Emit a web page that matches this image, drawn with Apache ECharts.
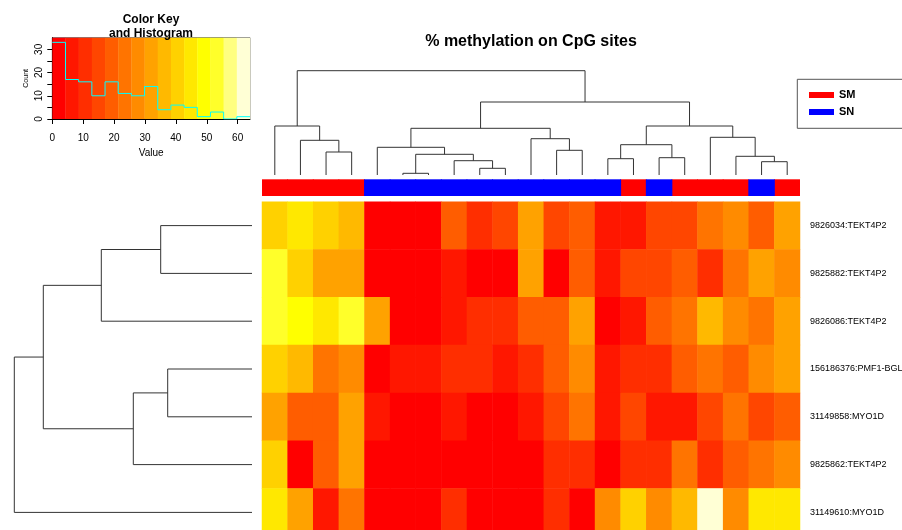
<!DOCTYPE html>
<html>
<head>
<meta charset="utf-8">
<script src="https://cdn.jsdelivr.net/npm/echarts@6.0.0/dist/echarts.min.js"></script>
<style>
html,body{margin:0;padding:0;background:#ffffff;}
#chart{width:902px;height:530px;}
</style>
</head>
<body>
<div id="chart"></div>
<script>
// ---------------- data ----------------
const columns = ['C1','C2','C3','C4','C5','C6','C7','C8','C9','C10','C11','C12','C13','C14','C15','C16','C17','C18','C19','C20','C21'];
const sampleGroup = ['SM','SM','SM','SM','SN','SN','SN','SN','SN','SN','SN','SN','SN','SN','SM','SN','SM','SM','SM','SN','SM'];
const groupNames = ['SM','SN'];
const rowLabels = ['9826034:TEKT4P2','9825882:TEKT4P2','9826086:TEKT4P2','156186376:PMF1-BGLAP','31149858:MYO1D','9825862:TEKT4P2','31149610:MYO1D'];

const row1 = [40.1, 44.3, 40.8, 36.7, 1.2, 2.5, 0.8, 19.6, 10.2, 15.3, 31.4, 14.6, 19.9, 6.8, 5.9, 14.2, 15.8, 23.9, 27.4, 18.8, 32.6];
const row2 = [53.8, 41.2, 31.7, 32.9, 0.5, 1.9, 2.8, 6.1, 3.1, 1.4, 33.2, 2.2, 18.4, 7.3, 14.8, 15.6, 20.1, 11.4, 22.8, 31.1, 28.3];
const row3 = [52.6, 49.5, 45.1, 54.2, 30.9, 0.3, 1.6, 7.7, 11.9, 10.8, 19.3, 18.1, 31.9, 3.4, 6.6, 20.4, 24.6, 37.2, 26.9, 23.1, 33.5];
const row4 = [39.4, 35.8, 24.2, 28.8, 2.9, 5.2, 7.9, 9.4, 12.1, 6.3, 10.5, 17.9, 27.1, 4.8, 11.1, 9.9, 19.1, 22.4, 20.8, 26.3, 30.4];
const row5 = [32.3, 18.6, 20.7, 30.2, 7.1, 1.1, 0.6, 5.5, 2.4, 1.8, 6.9, 16.2, 22.1, 8.2, 13.4, 5.7, 7.5, 13.9, 25.1, 16.6, 19.4];
const row6 = [41.9, 3.7, 17.6, 31.3, 0.9, 1.3, 0.2, 2.6, 0.7, 1.7, 3.9, 9.1, 12.4, 0.4, 10.1, 11.6, 23.4, 9.7, 18.9, 24.8, 27.8];
const row7 = [46.2, 33.8, 4.5, 22.6, 1.0, 0.1, 2.1, 12.6, 1.5, 0.9, 2.7, 10.9, 3.3, 28.9, 39.7, 26.2, 35.4, 62.8, 29.1, 43.6, 45.9];
const methylation = [row1, row2, row3, row4, row5, row6, row7];

// column dendrogram (hclust-style merge: negative = leaf position, positive = earlier merge)
const colMerge = [[-6,-7],[-9,-10],[-20,-21],[-8,2],[-14,-15],[-16,-17],[-19,3],[1,4],[-3,-4],[-12,-13],[-5,8],[5,6],[-2,9],[-11,10],[-18,7],[11,14],[-1,13],[12,15],[16,18],[17,19]];
const colHeight = [1.7,6.7,13.3,14.3,16.3,17.3,18.7,20.7,23,24.7,27.7,30.3,34.7,36.3,37.7,46.7,49,49,73,104.3];
// row dendrogram
const rowMerge = [[-4,-5],[-1,-2],[-6,1],[-3,2],[4,3],[-7,5]];
const rowHeight = [84.3,91.3,118.7,150.7,208.7,237.7];

// colour key
const keyMin = 0, keyMax = 64, keyBins = 15;
const keyTicks = [0,10,20,30,40,50,60];
const countTicks = [0,5,10,15,20,25,30];
const countLabels = [0,10,20,30];
const countMax = 35;

// ---------------- styles ----------------
const heatColors = ['#FF0000','#FF1700','#FF2E00','#FF4600','#FF5D00','#FF7400','#FF8B00','#FFA200','#FFB900','#FFD100','#FFE800','#FFFF00','#FFFF2A','#FFFF80','#FFFFD5'];
const groupColors = {SM:'#FF0000', SN:'#0000FF'};
const FONT = '"Liberation Sans", Arial, Helvetica, sans-serif';
const LINE = '#333333';

// ---------------- derived ----------------
const binW = (keyMax - keyMin) / keyBins;
const keyBreaks = [];
for (let i = 0; i <= keyBins; i++) keyBreaks.push(keyMin + binW * i);
const counts = new Array(keyBins).fill(0);
methylation.forEach(r => r.forEach(v => {
  counts[Math.min(keyBins - 1, Math.floor((v - keyMin) / binW))]++;
}));
const histData = counts.map((c, i) => [keyBreaks[i], c]);
histData.push([keyBreaks[keyBins], counts[keyBins - 1]]);
const keyBands = counts.map((c, i) => [keyBreaks[i], keyBreaks[i + 1]]);

const heatData = [];
methylation.forEach((row, r) => row.forEach((v, c) => heatData.push([c, r, v])));

function dendroSegments(merge, height) {
  const pos = [], segs = [];
  const get = ref => ref < 0 ? {p: -ref, h: 0} : {p: pos[ref - 1], h: height[ref - 1]};
  merge.forEach((m, i) => {
    const a = get(m[0]), b = get(m[1]);
    pos[i] = (a.p + b.p) / 2;
    segs.push([[a.p, a.h], [a.p, height[i]], [b.p, height[i]], [b.p, b.h]]);
  });
  return segs;
}
const colSegs = dendroSegments(colMerge, colHeight);
const rowSegs = dendroSegments(rowMerge, rowHeight).map(s => s.map(c => [c[1], c[0]]));

function dendroSeries(segs, xi, yi) {
  return {
    type: 'custom', xAxisIndex: xi, yAxisIndex: yi, silent: true, clip: false,
    data: segs.map(s => s[1]),
    renderItem: (params, api) => ({
      type: 'polyline',
      shape: {points: segs[params.dataIndex].map(c => api.coord(c))},
      style: {stroke: LINE, lineWidth: 1, fill: 'none'}
    })
  };
}

const pieces = keyBreaks.slice(0, keyBins).map((b, i) =>
  i === keyBins - 1 ? {gte: b, lte: keyBreaks[i + 1], color: heatColors[i]}
                    : {gte: b, lt: keyBreaks[i + 1], color: heatColors[i]});

// ---------------- layout ----------------
const gridBase = {containLabel: false, outerBoundsMode: 'none'};
const HM  = Object.assign({left: 262, top: 201.7, width: 538, height: 334.6}, gridBase);
const CB  = Object.assign({left: 262, top: 179.3, width: 538, height: 16.7}, gridBase);
const TD  = Object.assign({left: 262, top: 70.7, width: 538, height: 104.3}, gridBase);
const RD  = Object.assign({left: 14.3, top: 201.7, width: 237.7, height: 334.6}, gridBase);
const KEY = Object.assign({left: 52.3, top: 37.7, width: 197.7, height: 81.3, show: true, borderColor: '#666', borderWidth: 1, backgroundColor: 'transparent'}, gridBase);

const chart = echarts.init(document.getElementById('chart'), null, {renderer: 'canvas'});
const txt = {fontFamily: FONT, color: '#000'};

const option = {
  animation: false,
  backgroundColor: '#ffffff',
  title: [
    {text: '% methylation on CpG sites', left: 531, top: 33, textAlign: 'center', padding: 0,
     textStyle: Object.assign({fontSize: 16, fontWeight: 'bold', lineHeight: 18}, txt)},
    {text: 'Color Key\nand Histogram', left: 151, top: 12.3, textAlign: 'center', padding: 0,
     textStyle: Object.assign({fontSize: 12, fontWeight: 'bold', lineHeight: 14}, txt)}
  ],
  legend: {
    data: groupNames, left: 797.3, top: 79.3, orient: 'vertical', icon: 'rect',
    itemWidth: 25, itemHeight: 6, itemGap: 5, padding: [9.7, 70, 10.3, 11.7],
    borderColor: '#555', borderWidth: 1, selectedMode: false,
    textStyle: Object.assign({fontSize: 11, fontWeight: 'bold', lineHeight: 12}, txt)
  },
  grid: [HM, CB, TD, RD, KEY],
  xAxis: [
    {gridIndex: 0, type: 'category', data: columns, show: false},
    {gridIndex: 1, type: 'category', data: columns, show: false},
    {gridIndex: 2, type: 'value', min: 0.5, max: columns.length + 0.5, show: false},
    {gridIndex: 3, type: 'value', min: 0, max: rowHeight[rowHeight.length - 1], inverse: true, show: false},
    {gridIndex: 4, type: 'value', min: keyMin, max: keyMax, position: 'bottom',
     axisLine: {show: true, onZero: false, lineStyle: {color: '#000', width: 1}},
     axisTick: {show: true, length: 5, customValues: keyTicks, lineStyle: {color: '#000'}},
     axisLabel: Object.assign({customValues: keyTicks, fontSize: 10, margin: 14,
       formatter: v => (keyTicks.indexOf(v) >= 0 ? String(v) : '')}, txt),
     splitLine: {show: false},
     name: 'Value', nameLocation: 'middle', nameGap: 29,
     nameTextStyle: Object.assign({fontSize: 10}, txt)}
  ],
  yAxis: [
    {gridIndex: 0, type: 'category', data: rowLabels, inverse: true, position: 'right',
     axisLine: {show: false}, axisTick: {show: false}, splitLine: {show: false},
     axisLabel: Object.assign({fontSize: 9, margin: 10}, txt)},
    {gridIndex: 1, type: 'value', min: 0, max: 1, show: false},
    {gridIndex: 2, type: 'value', min: 0, max: colHeight[colHeight.length - 1], show: false},
    {gridIndex: 3, type: 'value', min: 0.5, max: rowLabels.length + 0.5, inverse: true, show: false},
    {gridIndex: 4, type: 'value', min: 0, max: countMax, position: 'left',
     axisLine: {show: true, onZero: false, lineStyle: {color: '#000', width: 1}},
     axisTick: {show: true, length: 5, customValues: countTicks, lineStyle: {color: '#000'}},
     axisLabel: Object.assign({customValues: countLabels, fontSize: 10, margin: 8, rotate: 90,
       formatter: v => (countLabels.indexOf(v) >= 0 ? String(v) : '')}, txt),
     splitLine: {show: false},
     name: 'Count', nameLocation: 'middle', nameGap: 23, nameRotate: 90,
     nameTextStyle: Object.assign({fontSize: 7}, txt)}
  ],
  visualMap: [{type: 'piecewise', show: false, seriesIndex: 0, dimension: 2, pieces: pieces}],
  series: [
    {type: 'heatmap', xAxisIndex: 0, yAxisIndex: 0, data: heatData, silent: true,
     emphasis: {disabled: true}},
    {type: 'bar', name: 'SM', xAxisIndex: 1, yAxisIndex: 1, stack: 'group', barWidth: 26.5,
     barCategoryGap: 0, silent: true, itemStyle: {color: groupColors.SM, borderWidth: 0},
     data: sampleGroup.map(g => (g === 'SM' ? 1 : null))},
    {type: 'bar', name: 'SN', xAxisIndex: 1, yAxisIndex: 1, stack: 'group', barWidth: 26.5,
     barCategoryGap: 0, silent: true, itemStyle: {color: groupColors.SN, borderWidth: 0},
     data: sampleGroup.map(g => (g === 'SN' ? 1 : null))},
    dendroSeries(colSegs, 2, 2),
    dendroSeries(rowSegs, 3, 3),
    {type: 'custom', xAxisIndex: 4, yAxisIndex: 4, silent: true, z: 1, data: keyBands,
     renderItem: (params, api) => {
       const p0 = api.coord([api.value(0), 0]);
       const p1 = api.coord([api.value(1), countMax]);
       return {type: 'rect',
         shape: {x: p0[0], y: p1[1], width: p1[0] - p0[0] + 0.3, height: p0[1] - p1[1]},
         style: {fill: heatColors[params.dataIndex]}};
     }},
    {type: 'line', xAxisIndex: 4, yAxisIndex: 4, data: histData, step: 'end', symbol: 'none',
     silent: true, z: 3, lineStyle: {color: '#00FFFF', width: 1}}
  ]
};
chart.setOption(option);
</script>
</body>
</html>
